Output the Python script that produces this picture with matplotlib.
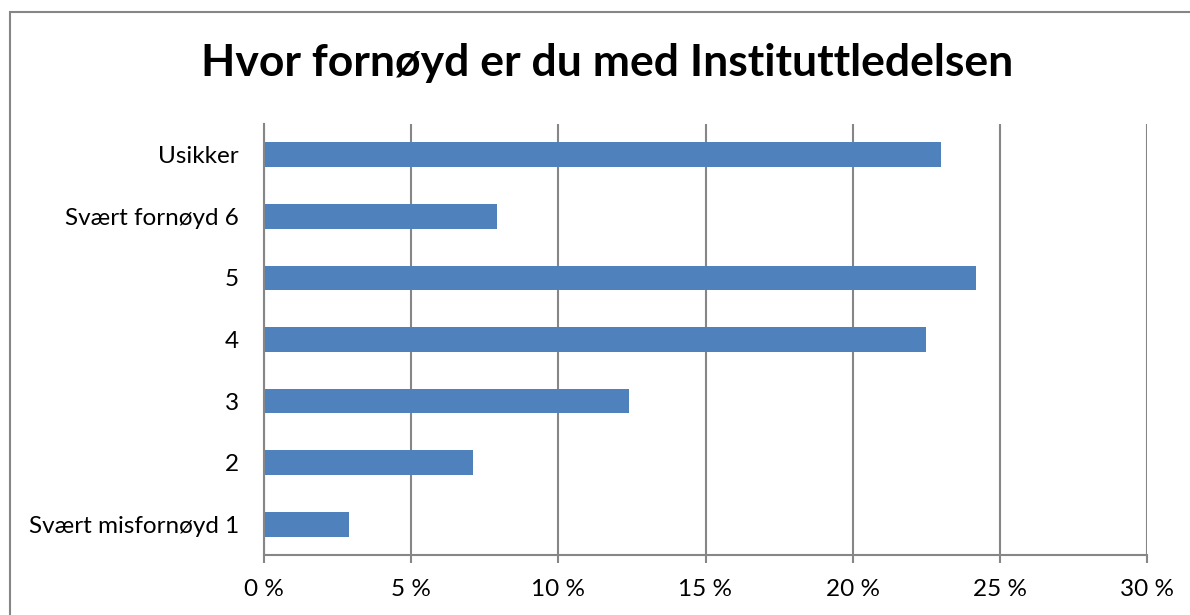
import matplotlib
matplotlib.use("Agg")
import matplotlib.pyplot as plt
from matplotlib.patches import Rectangle
from matplotlib.ticker import FuncFormatter

categories = ["Svært misfornøyd 1", "2", "3", "4", "5", "Svært fornøyd 6", "Usikker"]
values = [2.9, 7.1, 12.4, 22.5, 24.2, 7.9, 23.0]
xticks = [0, 5, 10, 15, 20, 25, 30]
title = "Hvor fornøyd er du med Instituttledelsen"

plt.rcParams['font.family'] = ['Lato', 'DejaVu Sans']

fig = plt.figure(figsize=(11.9, 6.15), dpi=100)
W, H = 1190, 615
# outer chart border
fig.patches.append(Rectangle((10 / W, -0.1), 1.2, (615 - 12) / H + 0.1, transform=fig.transFigure,
                             fill=False, edgecolor="#868686", linewidth=1.5))

ax = fig.add_axes([264 / W, (615 - 555) / H, (1147 - 264) / W, (555 - 124) / H])
ypos = list(range(len(categories)))
ax.barh(ypos, values, height=0.4, color="#4F81BD", zorder=3)
ax.set_ylim(-0.5, len(categories) - 0.5)
ax.set_xlim(0, 30)
ax.set_xticks(xticks)
ax.xaxis.set_major_formatter(FuncFormatter(lambda v, p: f"{int(v)} %"))
ax.set_yticks(ypos)
ax.set_yticklabels(categories)
ax.grid(axis="x", color="#868686", linewidth=1.5, zorder=0)
for s in ["top", "right"]:
    ax.spines[s].set_visible(False)
for s in ["left", "bottom"]:
    ax.spines[s].set_color("#868686")
    ax.spines[s].set_linewidth(1.5)
    ax.spines[s].set_zorder(4)
ax.tick_params(axis="x", length=6, width=1.5, color="#868686", labelsize=17.5, pad=11)
ax.tick_params(axis="y", length=0, labelsize=17.5, pad=18)

fig.text(0.51, 1 - 63 / H, title, ha="center", va="center", fontsize=32, fontweight="bold")

fig.savefig("out.png", dpi=100)
